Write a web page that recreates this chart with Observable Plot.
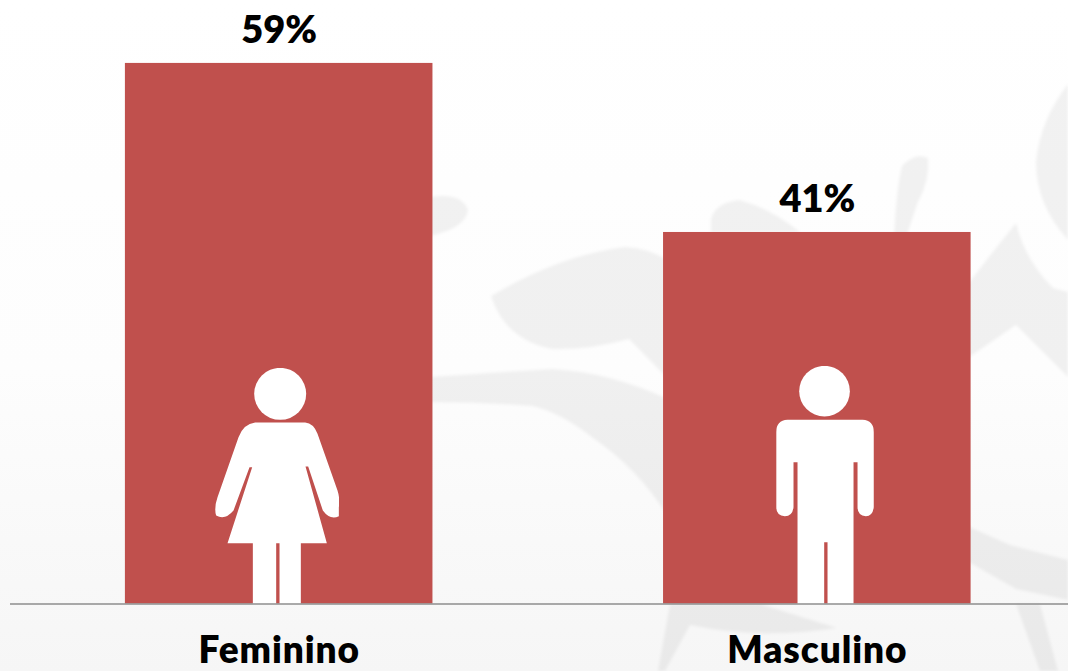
<!DOCTYPE html>
<html>
<head>
<meta charset="utf-8">
<script src="https://cdn.jsdelivr.net/npm/d3@7"></script>
<script src="https://cdn.jsdelivr.net/npm/@observablehq/plot@0.6"></script>
<style>
html,body{margin:0;padding:0;width:1068px;height:671px;overflow:hidden;background:linear-gradient(#ffffff 0%,#fdfdfd 55%,#f6f6f6 100%);}
#wrap{position:relative;width:1068px;height:671px;overflow:hidden;}
#wm{position:absolute;left:0;top:0;filter:blur(1.5px);}
#chart{position:absolute;left:0;top:0;}
#chart svg{background:transparent;display:block;}
#chart svg [aria-label="x-axis tick label"]{letter-spacing:0.9px;}
</style>
</head>
<body>
<div id="wrap">
<svg id="wm" width="1068" height="671" viewBox="0 0 1068 671" fill="#000" fill-opacity="0.05">
  <path d="M430 197 Q462 192 468 210 Q466 228 430 236 Z"/>
  <path d="M491 296 Q560 255 625 247 Q650 248 670 262 L670 381 Q650 360 629 339 Q590 350 552 349 Q505 340 491 296 Z"/>
  <path d="M430 377 Q500 372 552 369 Q610 372 670 400 L670 520 Q640 470 593 438 Q560 412 532 406 Q480 402 430 402 Z"/>
  <path d="M711 219 Q715 203 739 200 Q770 208 800 232 L711 232 Z"/>
  <path d="M894 239 Q896 190 902 166 Q915 152 928 158 Q930 180 918 202 L905 240 Z"/>
  <path d="M965 288 Q990 255 1016 223 Q1025 260 1053 288 L1068 292 L1068 377 L1016 325 L965 360 Z"/>
  <path d="M1068 84 Q1040 120 1036 162 Q1036 205 1068 240 Z"/>
  <path d="M965 525 L1010 545 L1068 560 L1068 600 L1016 589 L965 560 Z"/>
  <path d="M1016 604 L1040 604 L1058 671 L1040 671 Z"/>
  <path d="M670 604 L760 604 L837 628 Q760 640 690 625 L665 671 L658 671 Z"/>
</svg>
<div id="chart"></div>
</div>
<script>
const categories = ["Feminino", "Masculino"];
const percentages = [59, 41];
const labels = ["59%", "41%"];
const barFill = "#c0504d";
const fontFamily = "Lato, 'Open Sans', sans-serif";

const femaleSvg = `<svg xmlns="http://www.w3.org/2000/svg" viewBox="105 52 372 710"><g fill="#fff"><circle cx="300" cy="130" r="78"/><path d="M225 216H375Q400 218 412 250L472 420Q480 445 476 470V497Q450 510 428 480L384 348H376L440 578H362V762H298V578H288V762H218V578H142L216 350H208L160 480Q135 510 108 495Q100 475 112 440L175 260Q190 220 225 216Z"/></g></svg>`;
const maleSvg = `<svg xmlns="http://www.w3.org/2000/svg" viewBox="166 46 293 716"><g fill="#fff"><circle cx="311" cy="122" r="76"/><path d="M200 208H425Q459 210 459 245V470Q455 497 435 497Q410 495 410 470V335H398V762H320V575H310V762H230V335H218V470Q215 497 192 497Q166 495 166 470V245Q166 210 200 208Z"/></g></svg>`;
const toUri = s => "data:image/svg+xml;charset=utf-8," + encodeURIComponent(s);

const table = categories.map((c, i) => ({category: c, value: percentages[i], label: labels[i]}));
const yBase = 1.44;

const plot = Plot.plot({
  width: 1068,
  height: 671,
  marginTop: 0,
  marginBottom: 67.5,
  marginLeft: 10,
  marginRight: 0,
  x: {domain: categories, range: [27.5, 1068], paddingInner: 0.4285, paddingOuter: 0.181, round: false, label: null},
  y: {domain: [yBase, 65.7], axis: null},
  marks: [
    Plot.rectY(table, {x: "category", y1: yBase, y2: "value", fill: barFill}),
    Plot.image([table[0]], {x: "category", y: yBase, src: () => toUri(femaleSvg), width: 124, height: 236.7, dx: -2, dy: -117.8}),
    Plot.image([table[1]], {x: "category", y: yBase, src: () => toUri(maleSvg), width: 97.7, height: 238.7, dx: 7.7, dy: -118.8}),
    Plot.ruleY([yBase], {stroke: "#8e8e8e", strokeWidth: 1.5}),
    Plot.text(table, {x: "category", y: "value", text: "label", lineAnchor: "bottom", dy: -20, fontSize: 38, fontWeight: 800, fontFamily, fill: "#000"}),
    Plot.axisX({tickSize: 0, tickPadding: 33, fontSize: 37, fontWeight: 800, fontFamily, fill: "#000", label: null})
  ]
});
document.getElementById("chart").appendChild(plot);
</script>
</body>
</html>
